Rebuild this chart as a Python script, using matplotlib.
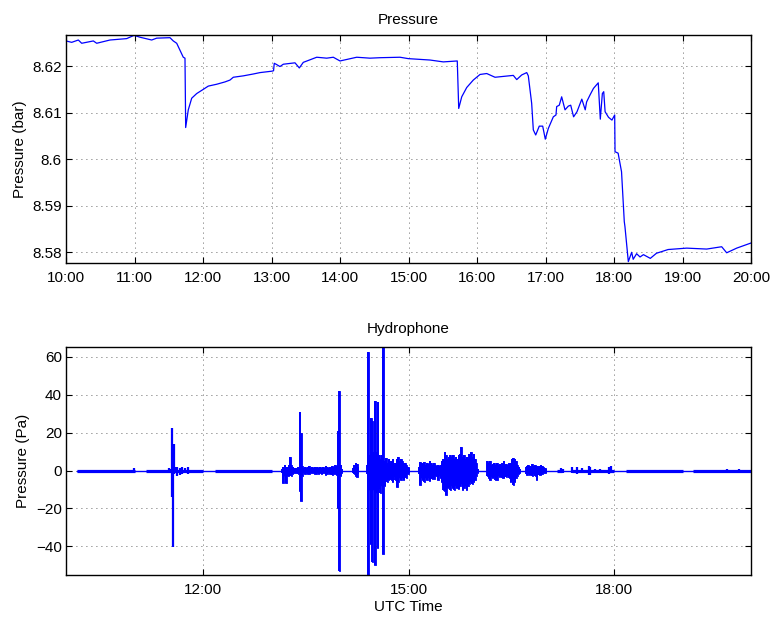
#Pressure and hydrophone record
import numpy as np
import matplotlib.pyplot as plt

plt.rcParams['font.family'] = ['Liberation Sans', 'DejaVu Sans']
plt.rcParams['font.size'] = 11

# top panel: line pressure (hours UTC, bar)
p_time = [10.000, 10.083, 10.180, 10.229, 10.399, 10.448, 10.642, 10.886, 10.993, 11.080,
          11.251, 11.324, 11.518, 11.566, 11.616, 11.664, 11.712, 11.737, 11.747, 11.785,
          11.835, 11.908, 12.004, 12.077, 12.200, 12.321, 12.394, 12.442, 12.588, 12.734,
          12.832, 13.003, 13.030, 13.040, 13.066, 13.124, 13.172, 13.343, 13.406, 13.464,
          13.660, 13.806, 13.902, 14.000, 14.244, 14.438, 14.584, 14.876, 14.997, 15.314,
          15.508, 15.712, 15.733, 15.777, 15.850, 15.946, 16.044, 16.142, 16.263, 16.530,
          16.580, 16.653, 16.726, 16.749, 16.798, 16.822, 16.857, 16.909, 16.959, 16.997,
          17.041, 17.114, 17.153, 17.163, 17.201, 17.236, 17.285, 17.333, 17.368, 17.410,
          17.460, 17.530, 17.580, 17.600, 17.650, 17.700, 17.770, 17.800, 17.830, 17.850,
          17.870, 17.920, 17.970, 18.010, 18.015, 18.060, 18.110, 18.150, 18.160, 18.209,
          18.258, 18.280, 18.330, 18.380, 18.430, 18.530, 18.620, 18.790, 19.061, 19.353,
          19.572, 19.645, 19.791, 20.000]
p_bar = [8.6254, 8.6251, 8.6256, 8.6249, 8.6254, 8.6249, 8.6256, 8.6259, 8.6266, 8.6262,
         8.6256, 8.6260, 8.6261, 8.6254, 8.6249, 8.6234, 8.6219, 8.6217, 8.6068, 8.6106,
         8.6131, 8.6141, 8.6150, 8.6157, 8.6161, 8.6166, 8.6170, 8.6176, 8.6179, 8.6183,
         8.6186, 8.6189, 8.6190, 8.6206, 8.6204, 8.6199, 8.6204, 8.6207, 8.6196, 8.6208,
         8.6219, 8.6217, 8.6219, 8.6211, 8.6219, 8.6217, 8.6218, 8.6219, 8.6216, 8.6213,
         8.6209, 8.6211, 8.6109, 8.6134, 8.6154, 8.6170, 8.6182, 8.6184, 8.6176, 8.6180,
         8.6171, 8.6181, 8.6186, 8.6179, 8.6120, 8.6063, 8.6052, 8.6071, 8.6071, 8.6043,
         8.6066, 8.6091, 8.6095, 8.6113, 8.6116, 8.6134, 8.6106, 8.6114, 8.6116, 8.6091,
         8.6102, 8.6129, 8.6106, 8.6123, 8.6138, 8.6152, 8.6164, 8.6086, 8.6141, 8.6145,
         8.6102, 8.6090, 8.6084, 8.6095, 8.6016, 8.6013, 8.5973, 8.5866, 8.5855, 8.5780,
         8.5800, 8.5785, 8.5797, 8.5790, 8.5795, 8.5787, 8.5798, 8.5806, 8.5809, 8.5807,
         8.5812, 8.5799, 8.5809, 8.5820]

p_ticks = [8.58, 8.59, 8.60, 8.61, 8.62]
p_tick_labels = ['8.58', '8.59', '8.6', '8.61', '8.62']
top_xticks = [10, 11, 12, 13, 14, 15, 16, 17, 18, 19, 20]
top_xlabels = ['10:00', '11:00', '12:00', '13:00', '14:00', '15:00', '16:00', '17:00', '18:00', '19:00', '20:00']

# bottom panel: hydrophone, peak values (Pa) of each spike / burst slice
iso_t = [10.83, 10.99, 11.50, 11.52, 11.55, 11.56, 11.58, 11.60, 11.62, 11.66, 11.70, 11.74, 11.78,
         17.22, 17.25, 17.39, 17.46, 17.53, 17.63, 17.65, 17.72, 17.80, 17.93, 17.95, 19.65, 19.82]
iso_hi = [0.5, 1.5, 1.5, 1, 22.5, 14, 14, 2, 2, 1.5, 2, 1.5, 2,
          1.5, 1, 2, 2, 1.2, 2.5, 2, 1, 1, 2, 2.5, 1, 1]
iso_lo = [-1.5, -1, -1, -1.5, -14, -40.5, -2, -1.5, -3, -2.5, -2, -1.5, -2,
          -1.5, -1, -1.5, -2, -1.2, -2.5, -2.5, -1, -1, -2, -1.5, -1, -1]

burst_a_hi = [1, 2, 3, 2, 2, 3, 7.4, 3, 2, 1.5, 1.5, 1.5, 2, 31, 20, 2.5, 1.5, 2, 1.5, 2, 2.5, 1.5, 2,
              1.5, 2, 1.5, 2, 1.5, 2, 1.5, 2, 1.5, 2.5, 2, 1.5, 2, 2, 2.5, 2, 3, 2.5, 21, 42, 3, 1]
burst_a_lo = [-1, -6.7, -3, -6.5, -3, -3, -2, -3, -2, -1.5, -1.5, -1.5, -2, -11, -16, -3, -1.5, -2,
              -1.5, -2, -2, -1.5, -1.5, -1.5, -2, -2, -1.5, -2, -1.5, -2, -1.5, -1.5, -2.5, -2,
              -1.5, -2, -2, -2.5, -2, -2, -2.5, -20, -53, -3, -1]
burst_b_hi = [1.5, 3, 4, 3.5, 2]
burst_b_lo = [-1.5, -2, -3, -3.5, -2]
burst_c_hi = [3, 62.5, 8, 28, 26, 10, 37, 10, 36, 8, 6, 8, 65, 5, 6.5, 4, 6, 4, 5, 6,
              3, 4, 6, 7, 5, 6, 5, 4, 4, 3, 2, 1.5]
burst_c_lo = [-2, -55, -10, -39, -48, -10, -50, -12, -41, -9, -12, -8, -44, -8, -5, -6, -5, -4, -5, -6,
              -3, -5, -8.5, -6, -4, -5, -4, -5, -3, -4, -2, -1.5]
burst_d_hi = [2, 4.5, 4, 3.5, 4.5, 3, 4, 3.5, 5, 4, 3, 4, 3, 2.5, 3, 2.5, 3, 5, 6, 10,
              8, 6, 7, 8, 7, 8, 6, 7, 6, 8, 9, 12.7, 7, 8, 6, 7, 6, 9, 10, 7, 9, 6, 4, 1]
burst_d_lo = [-2, -7.5, -4, -5, -6, -4, -5, -4, -5.5, -4, -4.5, -4.5, -3, -3, -5, -3, -4, -6, -10, -11,
              -13, -9, -8, -10, -8, -9, -10, -8, -9, -9.5, -8, -7, -10, -9, -8, -10, -8, -7, -6, -7,
              -6, -5, -3, -1]
burst_e_hi = [5, 4, 5, 3, 3.5, 4, 3, 4, 3, 3.5, 3, 4, 5, 3, 3.5, 3, 4, 4, 6, 6.5, 6, 5, 3, 2, 1]
burst_e_lo = [-3, -4, -5, -3.5, -4, -3, -5, -5, -3, -3.5, -3, -4, -4, -3, -3.5, -3, -4, -6, -5, -7.5,
              -6, -4, -3, -2, -1]
burst_f_hi = [2, 2.5, 3, 2.5, 2, 3.5, 2.5, 3, 2.5, 2, 2.5, 3, 2.5, 2, 1.5, 1]
burst_f_lo = [-2, -2.5, -2, -2.5, -2, -3, -2, -3, -5, -2, -2.5, -2.5, -2, -1.5, -1.5, -1]
burst_start = [13.15, 14.19, 14.39, 15.15, 16.15, 16.71]
burst_step = 0.02

# stretches with continuous low-level noise (start, end in hours)
quiet_start = [10.16, 11.17, 12.17, 13.15, 14.19, 14.39, 15.15, 16.15, 16.71, 17.17, 17.38, 18.17, 19.16]
quiet_end = [11.00, 12.00, 13.00, 14.03, 14.27, 15.00, 16.01, 16.63, 17.01, 17.24, 18.00, 19.00, 20.00]
record_span = [10.16, 20.0]

h_ticks = [-40, -20, 0, 20, 40, 60]
bot_xticks = [12, 15, 18]
bot_xlabels = ['12:00', '15:00', '18:00']

bursts_hi = [burst_a_hi, burst_b_hi, burst_c_hi, burst_d_hi, burst_e_hi, burst_f_hi]
bursts_lo = [burst_a_lo, burst_b_lo, burst_c_lo, burst_d_lo, burst_e_lo, burst_f_lo]

blue = '#0000ff'
grid_kw = dict(color='#333333', linestyle=(0, (1, 5)), linewidth=0.6)

fig = plt.figure(figsize=(7.72, 6.17), dpi=100)

ax1 = fig.add_axes([0.0855, 0.5737, 0.8873, 0.369])
ax1.plot(p_time, p_bar, color=blue, linewidth=0.9)
ax1.set_xlim(10, 20)
ax1.set_ylim(8.5777, 8.6266)
ax1.set_yticks(p_ticks)
ax1.set_yticklabels(p_tick_labels)
ax1.set_xticks(top_xticks)
ax1.set_xticklabels(top_xlabels)
ax1.set_ylabel('Pressure (bar)')
ax1.set_title('Pressure', fontsize=11, pad=8)
ax1.grid(True, **grid_kw)

ax2 = fig.add_axes([0.0855, 0.0681, 0.8873, 0.369])
ax2.plot(record_span, [0, 0], color=blue, linewidth=1.0)
ax2.hlines(np.zeros(len(quiet_start)), quiet_start, quiet_end, color=blue, linewidth=2.3)
ax2.vlines(iso_t, iso_lo, iso_hi, color=blue, linewidth=1.6)
for t0, hi, lo in zip(burst_start, bursts_hi, bursts_lo):
    bt = [t0 + burst_step * i for i in range(len(hi))]
    ax2.fill_between(bt, lo, hi, step='mid', color=blue, linewidth=0.6)
    ax2.vlines(bt, lo, hi, color=blue, linewidth=1.4)
ax2.set_xlim(10, 20)
ax2.set_ylim(-55.1, 65.1)
ax2.set_yticks(h_ticks)
ax2.set_xticks(bot_xticks)
ax2.set_xticklabels(bot_xlabels)
ax2.set_ylabel('Pressure (Pa)')
ax2.set_xlabel('UTC Time', labelpad=2)
ax2.set_title('Hydrophone', fontsize=11, pad=10)
ax2.grid(True, **grid_kw)

for ax in (ax1, ax2):
    ax.tick_params(direction='in', top=True, right=True, length=4, width=0.8, labelsize=11)
    ax.tick_params(axis='x', pad=6)
    ax.tick_params(axis='y', pad=3)
    for s in ax.spines.values():
        s.set_linewidth(1.0)

fig.savefig('out.png', dpi=100)
